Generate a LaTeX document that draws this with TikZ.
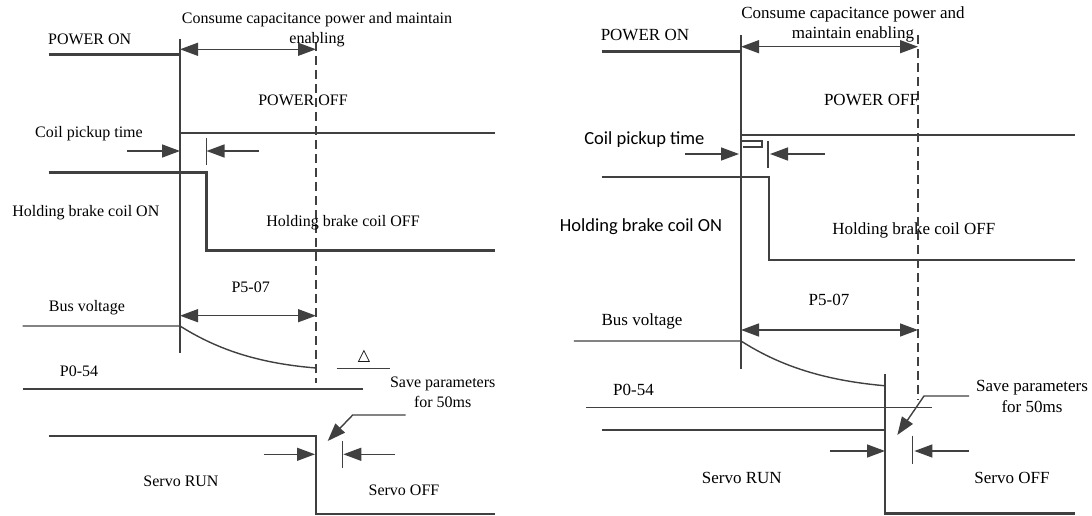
\documentclass[tikz,border=0pt]{standalone}
\usepackage{fontspec}
\setmainfont{Liberation Serif}
\newfontfamily\fonteSans{Carlito}
\newfontfamily\fonteSimb{DejaVu Sans}
\usetikzlibrary{arrows.meta}
\definecolor{cLinha}{HTML}{404040}

\begin{document}
\begin{tikzpicture}[
  x=1pt,y=-1pt,
  sig/.style={draw=cLinha,line width=2.8pt},
  fin/.style={draw=cLinha,line width=1.4pt},
  trc/.style={draw=cLinha,line width=1.4pt,dash pattern=on 9pt off 5pt},
  ar/.style={-{Triangle[length=18pt,width=13pt]},draw=cLinha,line width=1.4pt},
  ard/.style={{Triangle[length=18pt,width=13pt]}-{Triangle[length=18pt,width=13pt]},draw=cLinha,line width=1.4pt},
  lbl/.style={font=\fontsize{16}{20}\selectfont,inner sep=0pt,align=center},
  lblg/.style={font=\fontsize{17}{20.5}\selectfont,inner sep=0pt,align=center},
  lbls/.style={font=\fonteSans\fontsize{18.5}{22}\selectfont,inner sep=0pt}
]
\useasboundingbox (0,0) rectangle (1092,516);

% ---- painel esquerdo: sinais
\draw[sig] (48.7,54.3) -- (180,54.3) -- (180,133) -- (495,133);
\draw[sig] (48.7,172.7) -- (206.5,172.7) -- (206.5,250.7) -- (495,250.7);
\draw[sig] (48.7,436) -- (316,436) -- (316,514) -- (495,514);
\draw[fin] (22.6,326) -- (180,326) .. controls (215,348) and (255,363) .. (316,368);
\draw[fin] (22.6,389) -- (363.3,389);
\draw[fin] (336.7,368.3) -- (390,368.3);
\draw[fin] (180,38.7) -- (180,353);
\draw[fin] (206.5,138) -- (206.5,165);
\draw[fin] (342.3,440.7) -- (342.3,468.3);
\draw[trc] (316,42) -- (316,383);

% ---- painel esquerdo: cotas
\coordinate (la1) at (180,49.3);  \coordinate (lb1) at (316,49.3);
\coordinate (la2) at (180,315.7); \coordinate (lb2) at (316,315.7);
\coordinate (lc1) at (127,151);   \coordinate (lc2) at (180,151);
\coordinate (lc3) at (259,151);   \coordinate (lc4) at (206.5,151);
\coordinate (ls1) at (263.6,454.3); \coordinate (ls2) at (315,454.3);
\coordinate (ls3) at (395,454.3);   \coordinate (ls4) at (343.3,454.3);
\coordinate (lg1) at (405.6,415); \coordinate (lg2) at (352.7,415); \coordinate (lg3) at (327.7,441);
\draw[ard] (la1) -- (lb1);
\draw[ard] (la2) -- (lb2);
\draw[ar] (lc1) -- (lc2);
\draw[ar] (lc3) -- (lc4);
\draw[ar] (ls1) -- (ls2);
\draw[ar] (ls3) -- (ls4);
\draw[ar] (lg1) -- (lg2) -- (lg3);

% ---- painel esquerdo: textos
\node[lbl] (pon1)  at (89.7,39)    {POWER ON};
\node[lbl] (cap1)  at (317,30)     {Consume capacitance power and maintain\\ enabling};
\node[lbl] (poff1) at (303,100)    {POWER OFF};
\node[lbl] (coil1) at (89,134)     {Coil pickup time};
\node[lbl] (bon1)  at (85.8,213)   {Holding brake coil ON};
\node[lbl] (boff1) at (343,223)    {Holding brake coil OFF};
\node[lbl] (p507a) at (250.7,287)  {P5-07};
\node[lbl] (bus1)  at (86.9,308)   {Bus voltage};
\node[lbl] (p054a) at (79,371.7)   {P0-54};
\node[lbl] (tri1)  at (364,356.7)  {\fonteSimb △};
\node[lbl] (save1) at (442.7,392.5) {Save parameters\\ for 50ms};
\node[lbl] (run1)  at (181,481.7)  {Servo RUN};
\node[lbl] (soff1) at (404,490)    {Servo OFF};

% ---- painel direito: sinais
\draw[sig] (601.7,51.7) -- (741,51.7) -- (741,135) -- (1075,135);
\draw[sig] (601.7,177) -- (769,177) -- (769,260) -- (1075,260);
\draw[sig] (601.7,430) -- (885,430) -- (885,513.3) -- (1075,513.3);
\draw[fin] (573.9,341) -- (741,341) .. controls (777,364) and (820,380) .. (884.3,385.7);
\draw[fin] (586,407.3) -- (932.3,407.3);
\draw[fin] (741,35) -- (741,369.3);
\draw[fin] (741,141) -- (762,141) -- (762,147) -- (743,147);
\draw[fin] (768,141) -- (768,168);
\draw[fin] (885,374.3) -- (885,430);
\draw[fin] (912.3,435.7) -- (912.3,464);
\draw[trc] (918,35) -- (918,400);

% ---- painel direito: cotas
\coordinate (ra1) at (741,46.7); \coordinate (rb1) at (918,46.7);
\coordinate (ra2) at (741,330);  \coordinate (rb2) at (918,330);
\coordinate (rc1) at (685.3,154); \coordinate (rc2) at (739,154);
\coordinate (rc3) at (824.6,154); \coordinate (rc4) at (770,154);
\coordinate (rs1) at (829.8,451); \coordinate (rs2) at (885,451);
\coordinate (rs3) at (969,451);   \coordinate (rs4) at (914.4,451);
\coordinate (rg1) at (969,396); \coordinate (rg2) at (924,396); \coordinate (rg3) at (897.3,435);
\draw[ard] (ra1) -- (rb1);
\draw[ard] (ra2) -- (rb2);
\draw[ar] (rc1) -- (rc2);
\draw[ar] (rc3) -- (rc4);
\draw[ar] (rs1) -- (rs2);
\draw[ar] (rs3) -- (rs4);
\draw[ar] (rg1) -- (rg2) -- (rg3);

% ---- painel direito: textos
\node[lblg] (pon2)  at (644.9,35)   {POWER ON};
\node[lblg] (cap2)  at (853,24.5)   {Consume capacitance power and\\ maintain enabling};
\node[lblg] (poff2) at (871.5,100)  {POWER OFF};
\node[lbls] (coil2) at (644.4,139.3) {Coil pickup time};
\node[lbls] (bon2)  at (641,226.7)  {Holding brake coil ON};
\node[lblg] (boff2) at (913.9,230.7) {Holding brake coil OFF};
\node[lblg] (p507b) at (829,300)    {P5-07};
\node[lblg] (bus2)  at (642,321.7)  {Bus voltage};
\node[lblg] (p054b) at (633.5,390)  {P0-54};
\node[lblg] (save2) at (1032,396.5) {Save parameters\\ for 50ms};
\node[lblg] (run2)  at (741.8,478.3) {Servo RUN};
\node[lblg] (soff2) at (1012,478.3) {Servo OFF};
\end{tikzpicture}
\end{document}
